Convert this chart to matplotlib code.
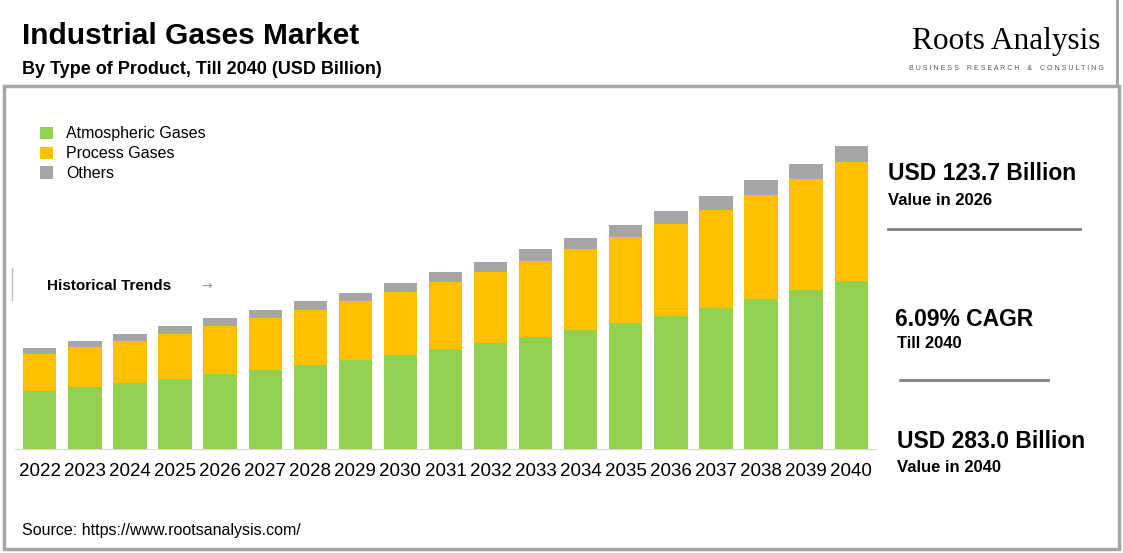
import matplotlib
matplotlib.use("Agg")
import matplotlib.pyplot as plt
from matplotlib.patches import Rectangle
from matplotlib.lines import Line2D

years = [str(y) for y in range(2022, 2041)]
atmospheric = [54.2, 57.9, 61.6, 65.4, 70.0, 73.8, 78.5, 83.1, 87.8, 93.4, 99.0, 104.6, 111.1, 117.7, 124.2, 131.7, 140.1, 148.5, 156.9]
process = [34.6, 37.4, 39.2, 42.0, 44.8, 48.6, 51.4, 55.1, 58.8, 62.6, 66.3, 71.0, 75.7, 80.3, 85.9, 91.5, 97.1, 103.7, 111.1]
others = [5.6, 5.6, 6.5, 7.5, 7.5, 7.5, 8.4, 7.5, 8.4, 9.3, 9.3, 11.2, 10.3, 11.2, 12.1, 13.1, 14.0, 14.0, 14.9]
series_names = ["Atmospheric Gases", "Process Gases", "Others"]
colors = ["#92d050", "#ffc000", "#a6a6a6"]

W, H = 1123, 553
fig = plt.figure(figsize=(W/100, H/100), dpi=100)
fig.patch.set_facecolor("white")

def fx(px): return px / W
def fy(py): return 1 - py / H

# frame
fig.add_artist(Rectangle((fx(4), fy(549)), fx(1115), (549-86)/H, transform=fig.transFigure,
                         fill=False, edgecolor="#a6a6a6", lw=2.5))
fig.add_artist(Rectangle((fx(1116), fy(86)), fx(3), 86/H, transform=fig.transFigure,
                         color="#a6a6a6", lw=0))

ax = fig.add_axes([fx(15), fy(449), fx(861), 349/H])
x = range(len(years))
bottom = [0]*len(years)
for vals, c, n in zip([atmospheric, process, others], colors, series_names):
    ax.bar(x, vals, bottom=bottom, width=0.74, color=c, label=n)
    bottom = [b+v for b, v in zip(bottom, vals)]
ax.set_xlim(-0.55, len(years)-0.45)
ax.set_ylim(0, 326)
for s in ["top", "right", "left"]:
    ax.spines[s].set_visible(False)
ax.spines["bottom"].set_color("#d9d9d9")
ax.set_yticks([])
ax.set_xticks(list(x))
ax.set_xticklabels(years, fontsize=13.5, family="Liberation Sans")
ax.tick_params(axis="x", length=0, pad=10)
leg = ax.legend(loc="upper left", frameon=False,
                prop={"family": "Liberation Sans", "size": 11.5}, handlelength=0.8,
                handleheight=0.8, labelspacing=0.3, borderaxespad=0)
leg.set_bbox_to_anchor((fx(34), fy(120)), transform=fig.transFigure)

fig.text(fx(22), fy(36), "Industrial Gases Market", fontsize=21.5, fontweight="bold",
         family="Liberation Sans", va="center")
fig.text(fx(22), fy(69), "By Type of Product, Till 2040 (USD Billion)", fontsize=13,
         fontweight="bold", family="Liberation Sans", va="center")
fig.text(fx(1006), fy(42), "Roots Analysis", fontsize=22.5, family="Liberation Serif",
         ha="center", va="center")
fig.text(fx(1006), fy(69), "B U S I N E S S    R E S E A R C H    &    C O N S U L T I N G",
         fontsize=5, family="Liberation Sans", ha="center", va="center", color="#555555")
fig.text(fx(47), fy(286), "Historical Trends", fontsize=11, fontweight="bold",
         family="Liberation Sans", va="center")
fig.text(fx(201), fy(286), "→", fontsize=9, color="#999999", va="center")
fig.add_artist(Line2D([fx(12), fx(12)], [fy(268), fy(300)], color="#bbbbbb", lw=1))

kw = dict(family="Liberation Sans", fontweight="bold")
fig.text(fx(888), fy(174), "USD 123.7 Billion", fontsize=16.5, va="center", **kw)
fig.text(fx(888), fy(200), "Value in 2026", fontsize=12, va="center", **kw)
fig.add_artist(Line2D([fx(888), fx(1080)], [fy(229), fy(229)], color="#7f7f7f", lw=2))
fig.text(fx(895), fy(320), "6.09% CAGR", fontsize=16.5, va="center", **kw)
fig.text(fx(897), fy(344), "Till 2040", fontsize=12, va="center", **kw)
fig.add_artist(Line2D([fx(900), fx(1048)], [fy(380), fy(380)], color="#7f7f7f", lw=2))
fig.text(fx(897), fy(442), "USD 283.0 Billion", fontsize=16.5, va="center", **kw)
fig.text(fx(897), fy(468), "Value in 2040", fontsize=12, va="center", **kw)

fig.text(fx(22), fy(531), "Source: https://www.rootsanalysis.com/", fontsize=11.5,
         family="Liberation Sans", va="center")

fig.savefig("out.png", dpi=100)
